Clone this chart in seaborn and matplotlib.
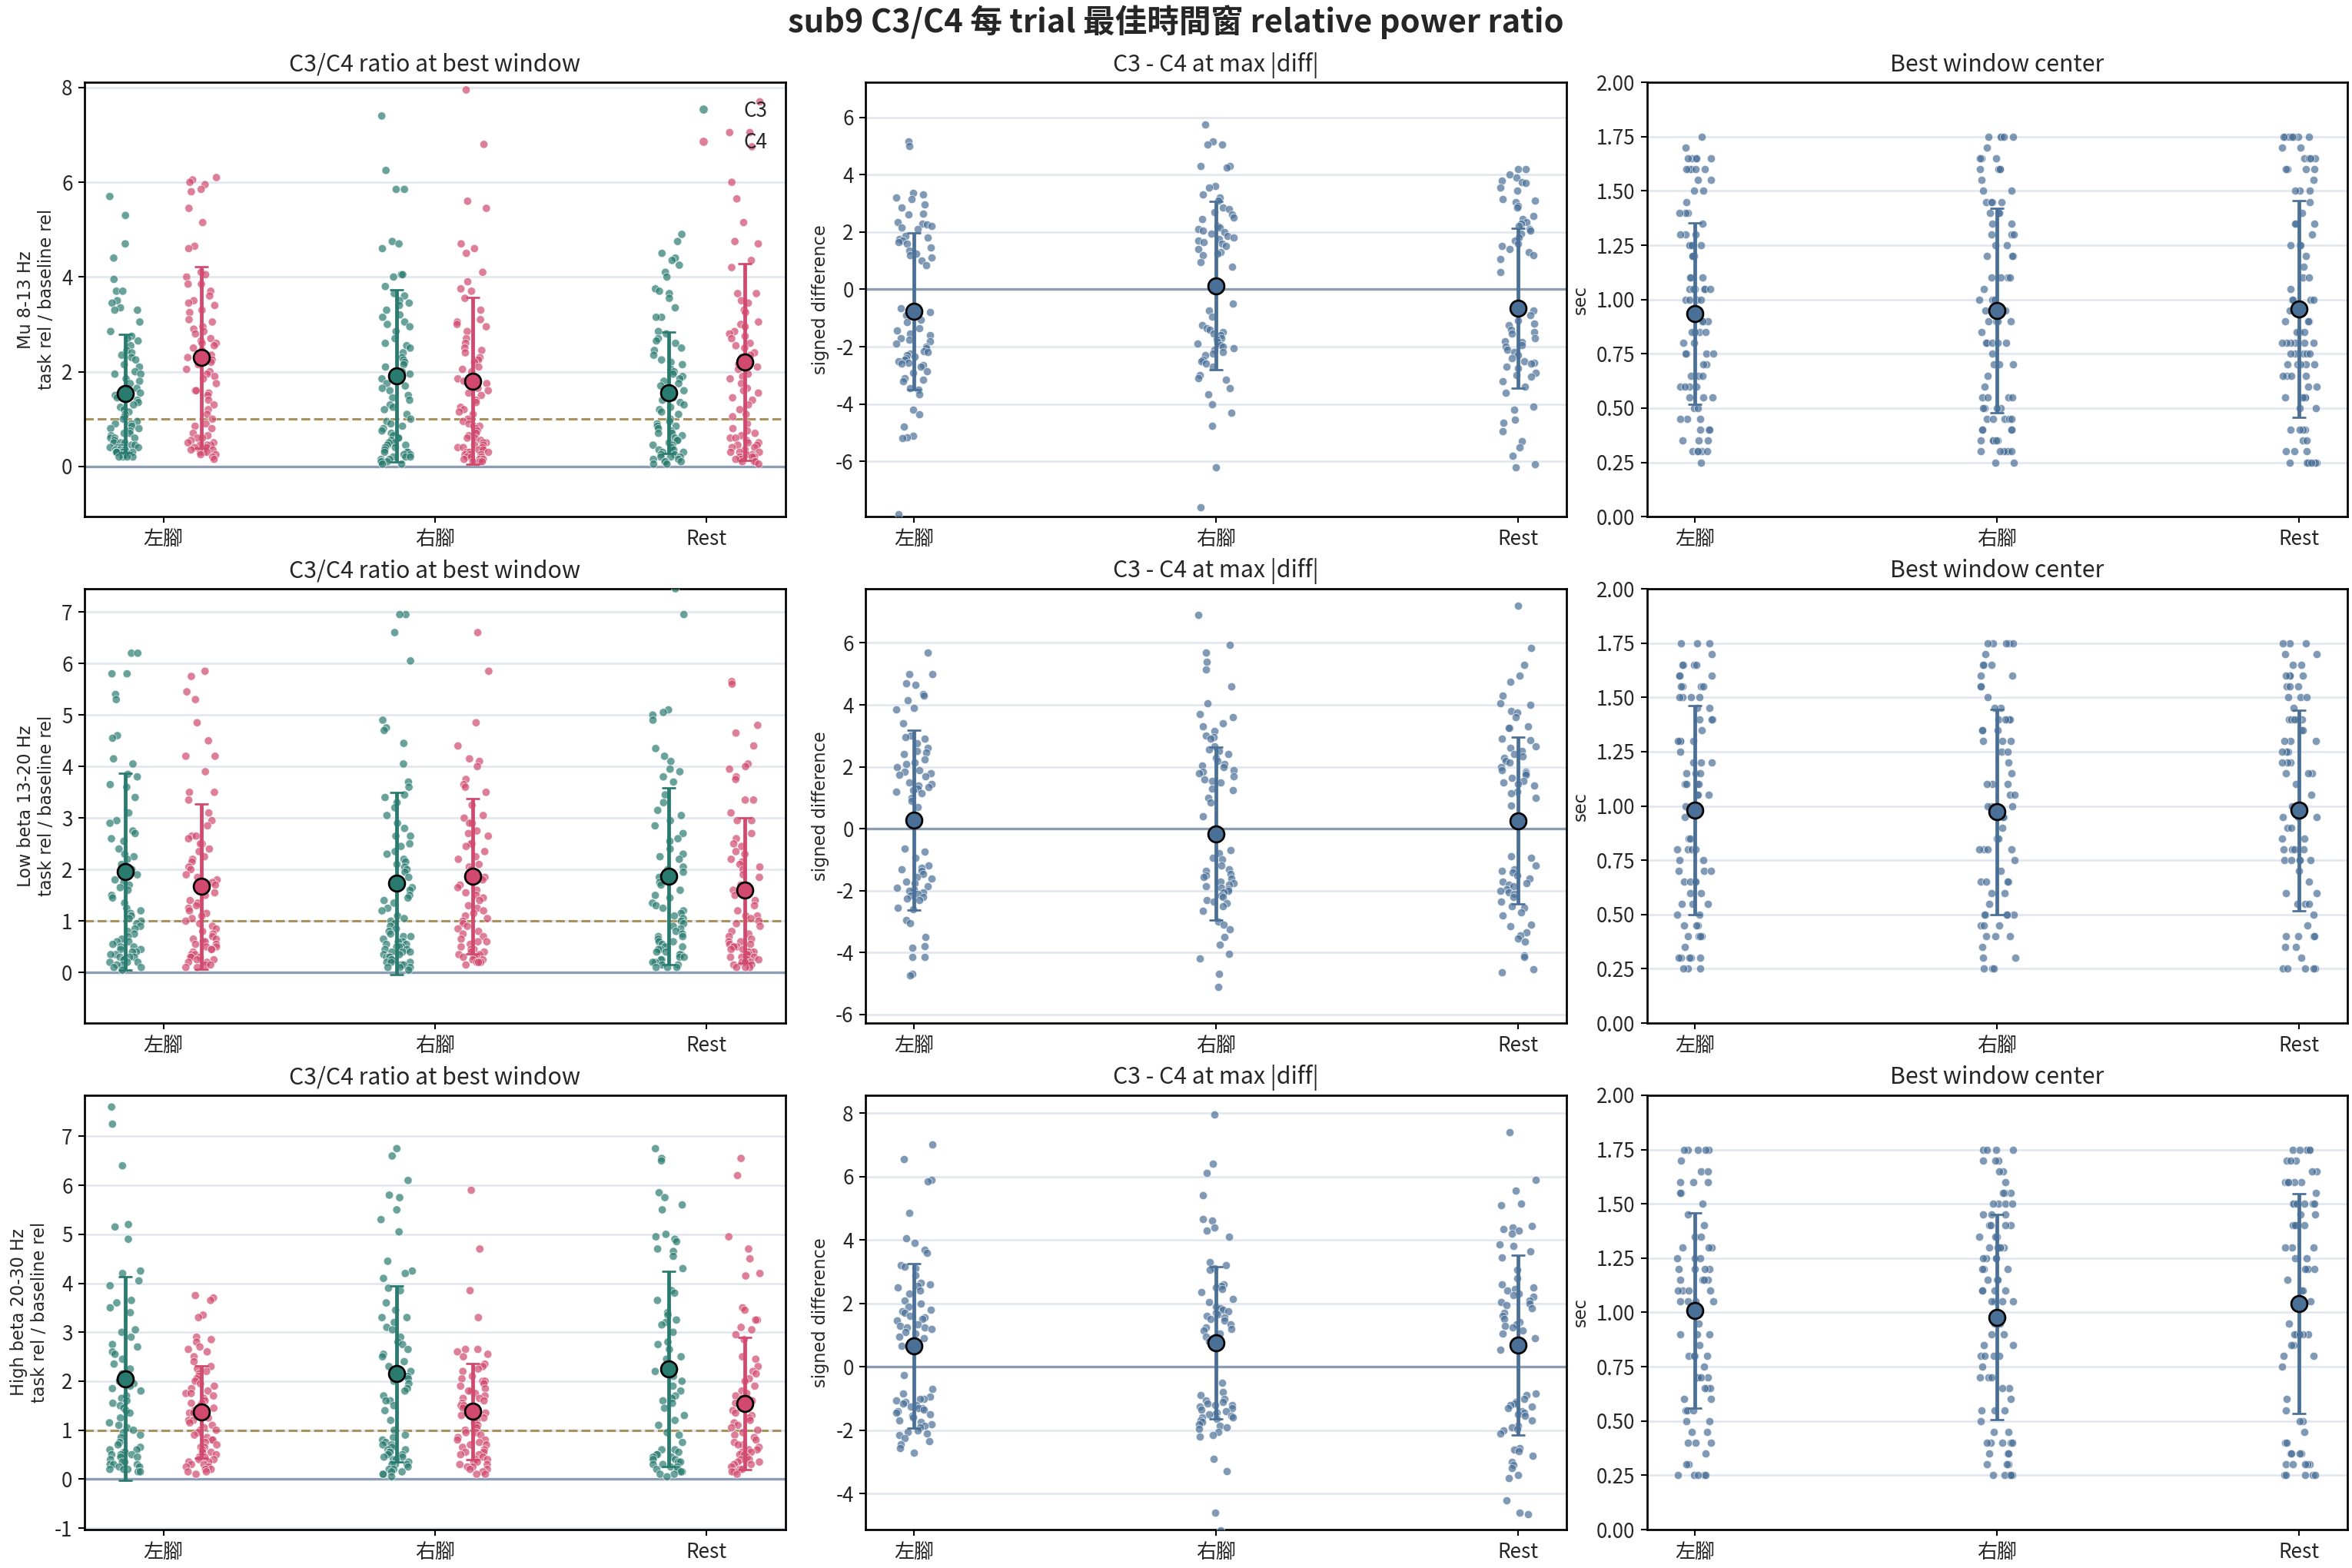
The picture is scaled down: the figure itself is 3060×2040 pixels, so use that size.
import numpy as np
import pandas as pd
import matplotlib
matplotlib.use("Agg")
import matplotlib.pyplot as plt
from matplotlib.lines import Line2D
from matplotlib.ticker import MultipleLocator, FormatStrFormatter
import seaborn as sns

# ---- categorias ----
conditions = ["左腳", "右腳", "Rest"]
channels = ["C3", "C4"]
band_labels = ["Mu 8-13 Hz", "Low beta 13-20 Hz", "High beta 20-30 Hz"]

# ---- C3/C4 ratio (task rel / baseline rel) ----
mu_left_c3 = [5.7, 5.3, 4.7, 4.4, 3.95, 3.7, 3.7, 3.5, 3.45, 3.35, 3.3, 3.3, 3.05, 2.85, 2.75, 2.7, 2.65, 2.55, 2.45, 2.4, 2.35, 2.3, 2.25, 2.15, 2.1, 2.0, 1.95, 1.95, 1.85, 1.8, 1.75, 1.65, 1.55, 1.5, 1.45, 1.4, 1.35, 1.3, 1.25, 1.2, 1.15, 1.1, 1.05, 1.0, 0.95, 0.9, 0.9, 0.85, 0.8, 0.8, 0.75, 0.7, 0.7, 0.65, 0.6, 0.6, 0.6, 0.55, 0.5, 0.5, 0.5, 0.45, 0.45, 0.4, 0.4, 0.4, 0.4, 0.35, 0.35, 0.35, 0.35, 0.3, 0.3, 0.3, 0.3, 0.3, 0.25, 0.25, 0.25, 0.2, 0.2, 0.2, 0.2]
mu_left_c4 = [6.1, 6.05, 6.0, 5.95, 5.85, 5.8, 5.45, 5.15, 4.65, 4.6, 4.1, 4.05, 4.0, 3.85, 3.85, 3.7, 3.6, 3.5, 3.45, 3.4, 3.3, 3.25, 3.1, 3.05, 2.95, 2.9, 2.85, 2.8, 2.7, 2.65, 2.6, 2.6, 2.55, 2.5, 2.45, 2.4, 2.35, 2.3, 2.25, 2.2, 2.15, 2.05, 2.0, 1.95, 1.9, 1.85, 1.75, 1.6, 1.6, 1.55, 1.5, 1.4, 1.3, 1.2, 1.1, 1.0, 0.9, 0.85, 0.8, 0.7, 0.65, 0.6, 0.6, 0.55, 0.5, 0.5, 0.45, 0.45, 0.45, 0.4, 0.4, 0.35, 0.35, 0.3, 0.3, 0.3, 0.25, 0.25, 0.2, 0.15]
mu_right_c3 = [7.4, 6.25, 5.85, 5.85, 4.75, 4.7, 4.6, 4.05, 4.05, 4.0, 3.8, 3.65, 3.6, 3.5, 3.45, 3.4, 3.3, 3.2, 3.15, 3.05, 3.0, 2.95, 2.85, 2.7, 2.6, 2.55, 2.5, 2.4, 2.3, 2.25, 2.2, 2.15, 2.1, 2.0, 1.95, 1.85, 1.75, 1.7, 1.65, 1.6, 1.5, 1.45, 1.4, 1.3, 1.25, 1.2, 1.1, 1.0, 0.95, 0.9, 0.85, 0.8, 0.75, 0.7, 0.65, 0.6, 0.6, 0.55, 0.5, 0.5, 0.45, 0.45, 0.4, 0.4, 0.35, 0.3, 0.3, 0.3, 0.25, 0.25, 0.2, 0.2, 0.2, 0.15, 0.15, 0.1, 0.1, 0.1, 0.05, 0.05]
mu_right_c4 = [7.95, 6.8, 5.6, 5.45, 4.7, 4.6, 4.5, 4.1, 3.9, 3.75, 3.7, 3.55, 3.3, 3.1, 3.05, 3.0, 2.95, 2.85, 2.7, 2.6, 2.5, 2.45, 2.4, 2.3, 2.25, 2.2, 2.1, 2.05, 2.0, 1.9, 1.85, 1.8, 1.75, 1.65, 1.6, 1.55, 1.5, 1.4, 1.35, 1.25, 1.2, 1.15, 1.1, 1.0, 0.95, 0.9, 0.85, 0.85, 0.8, 0.75, 0.7, 0.65, 0.6, 0.6, 0.55, 0.5, 0.5, 0.45, 0.45, 0.4, 0.4, 0.4, 0.35, 0.35, 0.3, 0.3, 0.3, 0.25, 0.25, 0.25, 0.2, 0.2, 0.2, 0.15, 0.15, 0.15, 0.1, 0.1, 0.1]
mu_rest_c3 = [4.9, 4.75, 4.5, 4.4, 4.35, 4.25, 4.1, 4.0, 3.75, 3.7, 3.65, 3.55, 3.35, 3.15, 3.15, 2.85, 2.8, 2.7, 2.65, 2.6, 2.5, 2.45, 2.35, 2.25, 2.2, 2.15, 2.05, 2.0, 1.95, 1.9, 1.85, 1.8, 1.75, 1.7, 1.6, 1.55, 1.5, 1.45, 1.4, 1.35, 1.3, 1.25, 1.2, 1.15, 1.1, 1.0, 0.95, 0.9, 0.85, 0.85, 0.8, 0.75, 0.7, 0.7, 0.65, 0.6, 0.55, 0.55, 0.5, 0.45, 0.45, 0.4, 0.4, 0.35, 0.35, 0.3, 0.3, 0.25, 0.25, 0.2, 0.2, 0.2, 0.15, 0.15, 0.1, 0.1, 0.1, 0.05, 0.05]
mu_rest_c4 = [7.7, 7.05, 7.05, 6.75, 6.0, 5.65, 5.15, 4.75, 4.7, 4.35, 4.2, 3.65, 3.65, 3.5, 3.45, 3.3, 3.25, 3.05, 3.0, 2.95, 2.85, 2.8, 2.75, 2.7, 2.6, 2.55, 2.5, 2.4, 2.35, 2.3, 2.2, 2.15, 2.1, 2.05, 1.95, 1.9, 1.85, 1.75, 1.65, 1.6, 1.55, 1.45, 1.4, 1.3, 1.2, 1.1, 1.05, 0.9, 0.8, 0.75, 0.7, 0.65, 0.6, 0.6, 0.55, 0.5, 0.5, 0.45, 0.45, 0.4, 0.4, 0.35, 0.3, 0.3, 0.3, 0.25, 0.25, 0.2, 0.2, 0.2, 0.15, 0.15, 0.1, 0.1, 0.1, 0.05]

lowb_left_c3 = [6.2, 6.2, 5.8, 5.8, 5.4, 5.3, 4.6, 4.55, 4.15, 4.05, 3.85, 3.8, 3.65, 3.6, 3.4, 3.1, 2.95, 2.9, 2.75, 2.7, 2.6, 2.55, 2.4, 2.3, 2.25, 2.2, 2.1, 2.0, 1.95, 1.9, 1.8, 1.75, 1.7, 1.65, 1.6, 1.5, 1.45, 1.35, 1.25, 1.2, 1.15, 1.1, 1.05, 1.0, 0.95, 0.9, 0.85, 0.8, 0.75, 0.7, 0.65, 0.6, 0.6, 0.55, 0.5, 0.5, 0.45, 0.45, 0.4, 0.4, 0.35, 0.35, 0.3, 0.3, 0.3, 0.25, 0.25, 0.2, 0.2, 0.2, 0.15, 0.15, 0.1, 0.1, 0.05]
lowb_left_c4 = [5.85, 5.75, 5.45, 5.3, 4.85, 4.5, 4.2, 4.2, 3.9, 3.5, 3.5, 3.35, 3.1, 2.95, 2.85, 2.65, 2.65, 2.6, 2.5, 2.5, 2.4, 2.35, 2.25, 2.2, 2.15, 2.05, 2.0, 1.9, 1.85, 1.8, 1.75, 1.7, 1.6, 1.55, 1.5, 1.4, 1.35, 1.3, 1.25, 1.2, 1.15, 1.1, 1.05, 1.0, 0.95, 0.9, 0.85, 0.8, 0.75, 0.7, 0.65, 0.65, 0.6, 0.6, 0.55, 0.55, 0.5, 0.5, 0.45, 0.45, 0.4, 0.35, 0.35, 0.3, 0.3, 0.3, 0.25, 0.25, 0.2, 0.2, 0.15, 0.15, 0.1, 0.1]
lowb_right_c3 = [6.95, 6.95, 6.6, 6.05, 4.9, 4.75, 4.7, 4.45, 4.05, 3.7, 3.6, 3.45, 3.4, 3.3, 3.2, 3.05, 2.9, 2.8, 2.65, 2.65, 2.5, 2.45, 2.35, 2.3, 2.2, 2.15, 2.1, 2.05, 2.0, 1.95, 1.85, 1.8, 1.75, 1.65, 1.6, 1.5, 1.45, 1.4, 1.35, 1.25, 1.2, 1.1, 1.05, 1.0, 0.95, 0.9, 0.85, 0.8, 0.75, 0.7, 0.7, 0.65, 0.6, 0.6, 0.55, 0.55, 0.5, 0.5, 0.5, 0.45, 0.45, 0.4, 0.4, 0.4, 0.35, 0.35, 0.3, 0.3, 0.3, 0.25, 0.25, 0.2, 0.2, 0.2, 0.15, 0.15, 0.1, 0.1, 0.1, 0.05]
lowb_right_c4 = [6.6, 5.85, 4.85, 4.4, 4.15, 4.1, 4.0, 3.75, 3.65, 3.6, 3.5, 3.25, 3.05, 3.0, 2.9, 2.9, 2.75, 2.7, 2.65, 2.5, 2.5, 2.45, 2.35, 2.25, 2.2, 2.1, 2.05, 2.0, 1.95, 1.9, 1.85, 1.8, 1.7, 1.65, 1.6, 1.55, 1.5, 1.45, 1.4, 1.3, 1.25, 1.2, 1.15, 1.1, 1.05, 1.0, 0.95, 0.9, 0.85, 0.8, 0.75, 0.7, 0.65, 0.6, 0.6, 0.55, 0.5, 0.45, 0.45, 0.4, 0.4, 0.35, 0.35, 0.3, 0.3, 0.3, 0.25, 0.25, 0.2, 0.2, 0.2, 0.15]
lowb_rest_c3 = [7.45, 6.95, 5.1, 5.05, 5.0, 4.9, 4.35, 4.2, 4.1, 3.95, 3.9, 3.8, 3.7, 3.45, 3.3, 3.15, 3.05, 2.95, 2.85, 2.7, 2.6, 2.55, 2.4, 2.3, 2.25, 2.2, 2.05, 2.0, 1.95, 1.85, 1.75, 1.7, 1.6, 1.5, 1.45, 1.35, 1.3, 1.25, 1.2, 1.15, 1.1, 1.05, 1.0, 0.95, 0.9, 0.85, 0.8, 0.75, 0.7, 0.7, 0.65, 0.6, 0.6, 0.55, 0.5, 0.5, 0.45, 0.45, 0.4, 0.4, 0.35, 0.35, 0.3, 0.3, 0.25, 0.25, 0.2, 0.2, 0.15, 0.15, 0.1, 0.1, 0.1]
lowb_rest_c4 = [5.65, 5.6, 4.8, 4.65, 4.4, 4.05, 4.0, 3.95, 3.8, 3.75, 3.35, 3.35, 3.1, 2.95, 2.95, 2.7, 2.6, 2.5, 2.45, 2.35, 2.3, 2.2, 2.15, 2.1, 2.05, 2.0, 1.9, 1.85, 1.7, 1.6, 1.5, 1.4, 1.3, 1.2, 1.1, 1.1, 1.05, 1.0, 0.95, 0.9, 0.8, 0.75, 0.7, 0.65, 0.6, 0.6, 0.55, 0.55, 0.5, 0.5, 0.5, 0.45, 0.45, 0.4, 0.4, 0.4, 0.35, 0.35, 0.3, 0.3, 0.3, 0.25, 0.25, 0.2, 0.2, 0.2, 0.15, 0.15, 0.1, 0.1, 0.1]

highb_left_c3 = [7.6, 7.25, 6.4, 5.2, 5.15, 4.9, 4.25, 4.2, 4.05, 3.95, 3.65, 3.6, 3.5, 3.4, 3.05, 3.0, 2.9, 2.75, 2.7, 2.6, 2.55, 2.45, 2.35, 2.25, 2.15, 2.1, 2.0, 1.95, 1.9, 1.85, 1.8, 1.7, 1.65, 1.6, 1.55, 1.5, 1.45, 1.4, 1.35, 1.25, 1.15, 1.1, 1.05, 1.0, 0.95, 0.9, 0.85, 0.75, 0.7, 0.65, 0.6, 0.6, 0.55, 0.55, 0.5, 0.5, 0.5, 0.45, 0.45, 0.4, 0.35, 0.35, 0.3, 0.3, 0.3, 0.25, 0.25, 0.2, 0.2, 0.2, 0.15, 0.15]
highb_left_c4 = [3.75, 3.7, 3.65, 3.35, 3.3, 2.9, 2.85, 2.8, 2.7, 2.65, 2.6, 2.5, 2.4, 2.3, 2.25, 2.2, 2.15, 2.1, 2.05, 2.0, 1.95, 1.9, 1.85, 1.8, 1.75, 1.75, 1.7, 1.65, 1.6, 1.55, 1.55, 1.5, 1.45, 1.4, 1.35, 1.35, 1.3, 1.25, 1.2, 1.2, 1.15, 1.1, 1.05, 1.0, 1.0, 0.95, 0.9, 0.85, 0.8, 0.8, 0.75, 0.7, 0.65, 0.65, 0.6, 0.55, 0.55, 0.5, 0.45, 0.45, 0.4, 0.4, 0.35, 0.35, 0.3, 0.3, 0.25, 0.25, 0.2, 0.2, 0.15, 0.15, 0.1]
highb_right_c3 = [6.75, 6.6, 6.1, 5.8, 5.75, 5.5, 5.3, 5.05, 4.45, 4.25, 4.2, 4.1, 3.9, 3.85, 3.6, 3.45, 3.3, 3.3, 3.2, 3.1, 3.05, 2.9, 2.8, 2.75, 2.65, 2.55, 2.5, 2.4, 2.3, 2.2, 2.1, 2.05, 2.0, 1.95, 1.85, 1.8, 1.7, 1.6, 1.6, 1.5, 1.4, 1.2, 1.0, 0.9, 0.85, 0.8, 0.75, 0.7, 0.7, 0.65, 0.6, 0.6, 0.55, 0.55, 0.5, 0.5, 0.45, 0.45, 0.4, 0.4, 0.35, 0.3, 0.3, 0.3, 0.25, 0.2, 0.2, 0.15, 0.15, 0.1, 0.1, 0.05]
highb_right_c4 = [5.9, 4.7, 3.85, 3.3, 2.65, 2.65, 2.6, 2.55, 2.5, 2.35, 2.3, 2.25, 2.2, 2.1, 2.05, 2.0, 2.0, 1.95, 1.9, 1.85, 1.8, 1.8, 1.75, 1.7, 1.65, 1.65, 1.6, 1.55, 1.5, 1.5, 1.45, 1.4, 1.35, 1.3, 1.3, 1.25, 1.2, 1.15, 1.15, 1.1, 1.05, 1.0, 0.95, 0.95, 0.9, 0.85, 0.8, 0.8, 0.75, 0.7, 0.7, 0.65, 0.6, 0.55, 0.55, 0.5, 0.5, 0.45, 0.4, 0.4, 0.35, 0.35, 0.3, 0.3, 0.25, 0.25, 0.2, 0.2, 0.15, 0.1, 0.1]
highb_rest_c3 = [6.75, 6.55, 6.5, 5.85, 5.75, 5.6, 5.5, 5.0, 4.95, 4.9, 4.85, 4.7, 4.65, 4.55, 4.3, 3.85, 3.8, 3.65, 3.4, 3.35, 3.25, 3.2, 3.15, 3.0, 2.8, 2.75, 2.65, 2.5, 2.45, 2.35, 2.25, 2.2, 2.1, 2.0, 1.9, 1.8, 1.7, 1.65, 1.6, 1.55, 1.45, 1.3, 1.2, 1.1, 0.95, 0.9, 0.75, 0.6, 0.6, 0.55, 0.5, 0.5, 0.45, 0.45, 0.4, 0.4, 0.35, 0.35, 0.3, 0.3, 0.25, 0.25, 0.2, 0.2, 0.15, 0.15, 0.1, 0.1, 0.05]
highb_rest_c4 = [6.55, 6.2, 4.95, 4.7, 4.5, 4.2, 4.15, 3.5, 3.45, 3.25, 3.25, 3.1, 3.05, 2.95, 2.85, 2.5, 2.45, 2.3, 2.2, 2.15, 2.05, 2.0, 1.9, 1.8, 1.75, 1.7, 1.65, 1.6, 1.55, 1.5, 1.45, 1.4, 1.35, 1.3, 1.25, 1.2, 1.15, 1.1, 1.05, 1.0, 0.95, 0.9, 0.85, 0.8, 0.75, 0.7, 0.7, 0.65, 0.6, 0.6, 0.55, 0.55, 0.5, 0.5, 0.45, 0.4, 0.4, 0.35, 0.35, 0.3, 0.3, 0.25, 0.2, 0.2, 0.15, 0.15, 0.1]

# media y desviacion estandar [cond][canal]
ratio_mean_mu = [[1.54, 2.30], [1.91, 1.80], [1.55, 2.21]]
ratio_sd_mu = [[1.25, 1.92], [1.82, 1.76], [1.28, 2.08]]
ratio_mean_lowb = [[1.96, 1.67], [1.73, 1.87], [1.87, 1.60]]
ratio_sd_lowb = [[1.91, 1.61], [1.77, 1.51], [1.72, 1.41]]
ratio_mean_highb = [[2.05, 1.37], [2.15, 1.38], [2.25, 1.54]]
ratio_sd_highb = [[2.08, 0.94], [1.80, 0.98], [2.00, 1.35]]

# ---- C3 - C4 en max |diff| ----
diff_mu_left = [5.15, 5.0, 3.35, 3.3, 3.2, 3.15, 2.95, 2.85, 2.65, 2.6, 2.35, 2.3, 2.25, 2.2, 2.15, 2.1, 1.85, 1.8, 1.75, 1.7, 1.65, 1.6, 1.45, 1.35, 1.25, 1.2, 1.1, 1.0, 0.85, -0.65, -0.8, -0.9, -1.05, -1.15, -1.35, -1.45, -1.55, -1.6, -1.7, -1.75, -1.8, -1.9, -2.0, -2.05, -2.15, -2.2, -2.25, -2.3, -2.35, -2.4, -2.45, -2.5, -2.55, -2.6, -2.65, -2.7, -2.85, -2.9, -3.1, -3.15, -3.2, -3.45, -3.5, -3.65, -4.2, -4.35, -4.8, -5.1, -5.15, -5.2, -7.85]
diff_mu_right = [5.75, 5.15, 5.05, 5.05, 4.3, 4.3, 4.25, 3.6, 3.55, 3.3, 3.2, 3.1, 2.85, 2.8, 2.7, 2.6, 2.5, 2.45, 2.2, 2.15, 2.1, 2.05, 2.0, 1.95, 1.85, 1.8, 1.75, 1.7, 1.65, 1.6, 1.5, 1.4, 1.3, 1.25, 1.2, 0.95, 0.8, -0.5, -0.75, -0.95, -1.25, -1.35, -1.4, -1.5, -1.55, -1.6, -1.7, -1.75, -1.85, -1.9, -1.95, -2.0, -2.05, -2.1, -2.2, -2.25, -2.3, -2.45, -2.5, -2.6, -2.7, -3.0, -3.1, -3.15, -3.45, -3.65, -4.0, -4.3, -4.75, -6.2, -7.6]
diff_mu_rest = [4.2, 4.2, 4.0, 3.9, 3.8, 3.75, 3.7, 3.55, 3.45, 3.15, 3.1, 3.05, 2.9, 2.85, 2.55, 2.45, 2.35, 2.3, 2.2, 2.1, 2.05, 1.95, 1.8, 1.7, 1.6, 1.5, 1.4, 1.3, 1.2, 1.05, 0.6, -0.75, -0.9, -1.1, -1.2, -1.25, -1.4, -1.5, -1.55, -1.7, -1.8, -1.85, -1.95, -2.0, -2.1, -2.2, -2.3, -2.4, -2.5, -2.55, -2.6, -2.7, -2.75, -2.9, -3.0, -3.05, -3.2, -3.4, -3.6, -4.1, -4.2, -4.55, -4.65, -4.95, -5.3, -5.5, -5.8, -6.1, -6.2]
diff_lowb_left = [5.7, 5.0, 5.0, 4.7, 4.65, 4.35, 4.3, 4.15, 3.9, 3.85, 3.4, 3.0, 2.95, 2.9, 2.75, 2.6, 2.5, 2.45, 2.4, 2.25, 2.15, 2.1, 2.0, 1.9, 1.85, 1.8, 1.75, 1.7, 1.5, 1.45, 1.4, 1.35, 1.3, 1.25, 1.2, 1.15, 1.0, 0.9, 0.7, -0.65, -0.75, -0.95, -1.2, -1.25, -1.3, -1.35, -1.45, -1.55, -1.6, -1.7, -1.75, -1.85, -1.9, -1.95, -2.0, -2.05, -2.1, -2.15, -2.2, -2.25, -2.3, -2.55, -2.6, -2.95, -3.05, -3.5, -3.8, -3.85, -4.15, -4.15, -4.7, -4.75]
diff_lowb_right = [6.9, 5.95, 5.7, 5.4, 5.15, 4.6, 4.05, 3.7, 3.6, 3.4, 3.3, 3.15, 3.0, 2.95, 2.9, 2.65, 2.55, 2.5, 2.4, 2.3, 2.2, 2.1, 2.05, 2.0, 1.9, 1.85, 1.8, 1.7, 1.6, 1.55, 1.5, 1.3, 1.25, 1.0, 0.85, 0.4, -0.7, -0.8, -0.95, -1.0, -1.2, -1.3, -1.35, -1.45, -1.5, -1.55, -1.6, -1.7, -1.75, -1.8, -1.85, -1.9, -1.95, -2.0, -2.05, -2.15, -2.2, -2.3, -2.35, -2.4, -2.5, -2.65, -3.0, -3.1, -3.25, -3.5, -3.75, -4.05, -4.2, -4.7, -5.1]
diff_lowb_rest = [7.2, 5.85, 5.3, 4.95, 4.75, 4.3, 4.05, 4.0, 3.8, 3.75, 3.6, 3.3, 3.25, 3.25, 2.9, 2.85, 2.65, 2.6, 2.5, 2.4, 2.35, 2.3, 2.2, 2.15, 2.0, 1.9, 1.85, 1.8, 1.75, 1.65, 1.55, 1.5, 1.45, 1.4, 1.2, 1.15, 1.0, 0.75, -0.9, -0.95, -1.2, -1.3, -1.35, -1.4, -1.5, -1.6, -1.7, -1.75, -1.8, -1.85, -1.95, -2.0, -2.05, -2.1, -2.2, -2.35, -2.5, -2.55, -2.7, -2.8, -3.1, -3.15, -3.35, -3.45, -3.55, -3.65, -4.1, -4.15, -4.55, -4.65]
diff_highb_left = [7.0, 6.55, 5.9, 5.85, 4.85, 4.05, 3.9, 3.7, 3.6, 3.2, 3.15, 3.1, 2.9, 2.65, 2.6, 2.55, 2.5, 2.4, 2.3, 2.1, 2.0, 1.9, 1.8, 1.75, 1.7, 1.6, 1.55, 1.5, 1.45, 1.35, 1.3, 1.25, 1.25, 1.2, 1.1, 1.05, 0.95, 0.9, 0.65, -0.25, -0.7, -0.85, -0.95, -1.0, -1.0, -1.05, -1.1, -1.15, -1.2, -1.25, -1.3, -1.3, -1.35, -1.4, -1.45, -1.5, -1.55, -1.6, -1.7, -1.75, -1.8, -1.85, -1.9, -2.0, -2.05, -2.1, -2.15, -2.25, -2.35, -2.45, -2.55, -2.7]
diff_highb_right = [7.95, 6.4, 6.1, 5.4, 4.65, 4.6, 4.4, 4.3, 4.1, 3.3, 3.2, 3.1, 3.05, 2.6, 2.55, 2.5, 2.45, 2.35, 2.15, 2.05, 1.9, 1.85, 1.8, 1.75, 1.7, 1.65, 1.6, 1.55, 1.5, 1.45, 1.35, 1.25, 1.2, 1.15, 1.05, 0.95, 0.8, -0.5, -0.8, -0.9, -1.0, -1.05, -1.1, -1.15, -1.2, -1.2, -1.25, -1.3, -1.35, -1.4, -1.45, -1.5, -1.5, -1.55, -1.6, -1.6, -1.65, -1.7, -1.75, -1.8, -1.85, -1.9, -1.95, -2.05, -2.15, -2.2, -2.9, -3.3, -4.6, -5.15]
diff_highb_rest = [7.4, 5.9, 5.55, 5.15, 5.1, 4.45, 4.4, 4.35, 4.3, 4.2, 3.85, 3.8, 3.65, 3.45, 3.05, 2.8, 2.6, 2.5, 2.45, 2.4, 2.3, 2.25, 2.2, 2.1, 2.05, 2.0, 1.95, 1.85, 1.7, 1.6, 1.5, 1.4, 1.35, 1.3, 1.25, 1.15, 1.05, 0.9, 0.55, -0.85, -0.9, -1.0, -1.1, -1.15, -1.2, -1.25, -1.3, -1.4, -1.45, -1.5, -1.55, -1.7, -1.85, -1.9, -1.95, -2.0, -2.1, -2.55, -2.6, -2.65, -2.8, -3.0, -3.1, -3.2, -3.4, -3.5, -4.2, -4.6, -4.65]

diff_mean_mu = [-0.77, 0.13, -0.66]
diff_sd_mu = [2.73, 2.93, 2.80]
diff_mean_lowb = [0.28, -0.16, 0.26]
diff_sd_lowb = [2.91, 2.79, 2.70]
diff_mean_highb = [0.67, 0.76, 0.69]
diff_sd_highb = [2.59, 2.40, 2.84]

# ---- centro de la mejor ventana (sec): numero de trials por nivel ----
center_levels = [1.75, 1.70, 1.65, 1.60, 1.55, 1.50, 1.45, 1.40, 1.35, 1.30, 1.25, 1.20, 1.15, 1.10, 1.05, 1.00,
                 0.95, 0.90, 0.85, 0.80, 0.75, 0.70, 0.65, 0.60, 0.55, 0.50, 0.45, 0.40, 0.35, 0.30, 0.25]
center_mu_left = [1, 1, 5, 5, 2, 2, 1, 3, 1, 3, 4, 3, 0, 3, 6, 4, 2, 3, 4, 2, 4, 2, 3, 4, 3, 2, 3, 3, 3, 5, 1]
center_mu_right = [5, 1, 3, 4, 1, 2, 4, 3, 2, 3, 2, 3, 0, 4, 1, 3, 3, 4, 1, 5, 1, 3, 1, 1, 4, 4, 5, 4, 5, 6, 2]
center_mu_rest = [7, 2, 4, 4, 1, 3, 1, 1, 3, 1, 3, 1, 1, 2, 1, 4, 1, 3, 3, 6, 5, 5, 4, 2, 4, 2, 0, 4, 2, 3, 7]
center_lowb_left = [3, 1, 4, 3, 4, 4, 2, 3, 1, 4, 1, 3, 3, 4, 3, 1, 1, 0, 2, 4, 2, 3, 4, 2, 3, 2, 3, 4, 1, 5, 3]
center_lowb_right = [5, 1, 3, 2, 2, 1, 2, 5, 3, 3, 2, 1, 1, 3, 2, 3, 2, 1, 2, 4, 1, 1, 4, 2, 1, 5, 3, 3, 1, 2, 3]
center_lowb_rest = [3, 2, 2, 4, 3, 3, 1, 5, 2, 3, 3, 3, 3, 1, 1, 3, 3, 2, 2, 4, 5, 1, 1, 2, 3, 1, 1, 4, 2, 1, 5]
center_highb_left = [5, 1, 2, 3, 2, 1, 1, 1, 2, 3, 3, 4, 4, 4, 4, 1, 1, 3, 1, 4, 1, 4, 3, 2, 3, 2, 2, 3, 1, 2, 5]
center_highb_right = [4, 3, 2, 1, 3, 4, 3, 4, 3, 5, 4, 3, 3, 4, 4, 0, 2, 2, 2, 4, 1, 3, 2, 1, 3, 1, 2, 5, 3, 3, 6]
center_highb_rest = [5, 3, 2, 5, 1, 6, 2, 5, 0, 3, 2, 4, 1, 2, 1, 0, 1, 5, 2, 2, 1, 0, 0, 1, 1, 2, 1, 2, 4, 5, 5]

center_mean_mu = [0.936, 0.950, 0.956]
center_sd_mu = [0.417, 0.470, 0.500]
center_mean_lowb = [0.981, 0.972, 0.979]
center_sd_lowb = [0.482, 0.472, 0.463]
center_mean_highb = [1.010, 0.978, 1.040]
center_sd_highb = [0.449, 0.473, 0.505]

# ---- estilo ----
sns.set_style("ticks")
plt.rcParams["font.family"] = ["Noto Sans CJK TC", "DejaVu Sans"]
plt.rcParams["axes.unicode_minus"] = False

C3_COLOR = "#2a7b6f"
C4_COLOR = "#d1496e"
DIFF_COLOR = "#4a7098"
GRID_COLOR = "#e2e7ef"
ZERO_COLOR = "#8d9db1"
ONE_COLOR = "#a8925e"
ratio_offsets = [-0.14, 0.14]
POINT_SIZE = 5.0
np.random.seed(9)


def base_axes(ax, title):
    ax.set_title(title, fontsize=14.5, pad=7, fontweight="medium")
    ax.grid(axis="y", color=GRID_COLOR, linewidth=1.3)
    ax.grid(axis="x", visible=False)
    ax.set_axisbelow(True)
    for sp in ax.spines.values():
        sp.set_visible(True)
        sp.set_color("black")
        sp.set_linewidth(1.3)
    ax.tick_params(axis="both", labelsize=12.5, length=4, width=1, color="black")
    ax.set_xlabel("")


def draw_mean_sd(ax, xs, means, sds, color):
    ax.errorbar(xs, means, yerr=sds, fmt="o", color=color, ecolor=color,
                elinewidth=2.3, capsize=4.5, capthick=2.0, markersize=10,
                markerfacecolor=color, markeredgecolor="black", markeredgewidth=1.3,
                zorder=6)


def draw_ratio(ax, values, means, sds, ylim, step, ylabel, show_legend):
    rows = []
    for ci, cond in enumerate(conditions):
        for hi, ch in enumerate(channels):
            for v in values[ci][hi]:
                rows.append({"pos": ci + ratio_offsets[hi], "chan": ch, "value": v})
    df = pd.DataFrame(rows)
    ax.axhline(0, color=ZERO_COLOR, linewidth=1.6, zorder=1)
    ax.axhline(1, color=ONE_COLOR, linewidth=1.5, linestyle="--", zorder=1)
    sns.stripplot(data=df, x="pos", y="value", hue="chan", hue_order=channels,
                  palette=[C3_COLOR, C4_COLOR], native_scale=True, jitter=0.21,
                  size=POINT_SIZE, alpha=0.7, edgecolor="white", linewidth=0.4,
                  legend=False, ax=ax, zorder=3)
    for ci in range(3):
        for hi, col in enumerate([C3_COLOR, C4_COLOR]):
            draw_mean_sd(ax, ci + ratio_offsets[hi], means[ci][hi], sds[ci][hi], col)
    base_axes(ax, "C3/C4 ratio at best window")
    ax.set_xticks(range(3))
    ax.set_xticklabels(conditions)
    ax.set_xlim(-0.29, 2.29)
    ax.set_ylim(*ylim)
    ax.yaxis.set_major_locator(MultipleLocator(step))
    ax.set_ylabel(ylabel, fontsize=10.8, family="DejaVu Sans")
    if show_legend:
        handles = [Line2D([], [], marker="o", linestyle="", markersize=POINT_SIZE + 0.5, alpha=0.7,
                          markerfacecolor=c, markeredgecolor="white", markeredgewidth=0.4)
                   for c in [C3_COLOR, C4_COLOR]]
        ax.legend(handles, channels, loc="upper right", frameon=False, fontsize=12.5,
                  handletextpad=1.0, borderaxespad=0.5, labelspacing=0.55)


def draw_strip(ax, values, means, sds, title, ylabel):
    df = pd.DataFrame({"cond": np.repeat(conditions, [len(v) for v in values]),
                       "value": np.concatenate(values)})
    sns.stripplot(data=df, x="cond", y="value", order=conditions, color=DIFF_COLOR,
                  jitter=0.06, size=POINT_SIZE, alpha=0.7, edgecolor="white", linewidth=0.4,
                  ax=ax, zorder=3)
    draw_mean_sd(ax, [0, 1, 2], means, sds, DIFF_COLOR)
    base_axes(ax, title)
    ax.set_xlim(-0.16, 2.16)
    ax.set_ylabel(ylabel, fontsize=10.8, family="DejaVu Sans")


ratio_sets = [
    ([[mu_left_c3, mu_left_c4], [mu_right_c3, mu_right_c4], [mu_rest_c3, mu_rest_c4]],
     ratio_mean_mu, ratio_sd_mu, (-1.06, 8.11), 2),
    ([[lowb_left_c3, lowb_left_c4], [lowb_right_c3, lowb_right_c4], [lowb_rest_c3, lowb_rest_c4]],
     ratio_mean_lowb, ratio_sd_lowb, (-0.98, 7.45), 1),
    ([[highb_left_c3, highb_left_c4], [highb_right_c3, highb_right_c4], [highb_rest_c3, highb_rest_c4]],
     ratio_mean_highb, ratio_sd_highb, (-1.03, 7.84), 1),
]
diff_sets = [
    ([diff_mu_left, diff_mu_right, diff_mu_rest], diff_mean_mu, diff_sd_mu, (-7.93, 7.22)),
    ([diff_lowb_left, diff_lowb_right, diff_lowb_rest], diff_mean_lowb, diff_sd_lowb, (-6.28, 7.75)),
    ([diff_highb_left, diff_highb_right, diff_highb_rest], diff_mean_highb, diff_sd_highb, (-5.13, 8.56)),
]
center_sets = [
    ([center_mu_left, center_mu_right, center_mu_rest], center_mean_mu, center_sd_mu),
    ([center_lowb_left, center_lowb_right, center_lowb_rest], center_mean_lowb, center_sd_lowb),
    ([center_highb_left, center_highb_right, center_highb_rest], center_mean_highb, center_sd_highb),
]

fig, axes = plt.subplots(3, 3, figsize=(20.4, 13.6), dpi=150)
fig.subplots_adjust(left=0.036, right=0.998, top=0.9475, bottom=0.0245, wspace=0.115, hspace=0.166)

for r in range(3):
    vals, means, sds, ylim, step = ratio_sets[r]
    draw_ratio(axes[r, 0], vals, means, sds, ylim, step,
               f"{band_labels[r]}\ntask rel / baseline rel", show_legend=(r == 0))

    vals, means, sds, ylim = diff_sets[r]
    ax = axes[r, 1]
    ax.axhline(0, color=ZERO_COLOR, linewidth=1.6, zorder=1)
    draw_strip(ax, vals, means, sds, "C3 - C4 at max |diff|", "signed difference")
    ax.set_ylim(*ylim)
    ax.yaxis.set_major_locator(MultipleLocator(2))

    counts, means, sds = center_sets[r]
    vals = [np.repeat(center_levels, c) for c in counts]
    ax = axes[r, 2]
    draw_strip(ax, vals, means, sds, "Best window center", "sec")
    ax.set_ylim(0, 2.0)
    ax.yaxis.set_major_locator(MultipleLocator(0.25))
    ax.yaxis.set_major_formatter(FormatStrFormatter("%.2f"))

fig.suptitle("sub9 C3/C4 每 trial 最佳時間窗 relative power ratio",
             fontsize=20, fontweight="bold", y=0.986, va="center")
fig.savefig("out.png", dpi=150)
